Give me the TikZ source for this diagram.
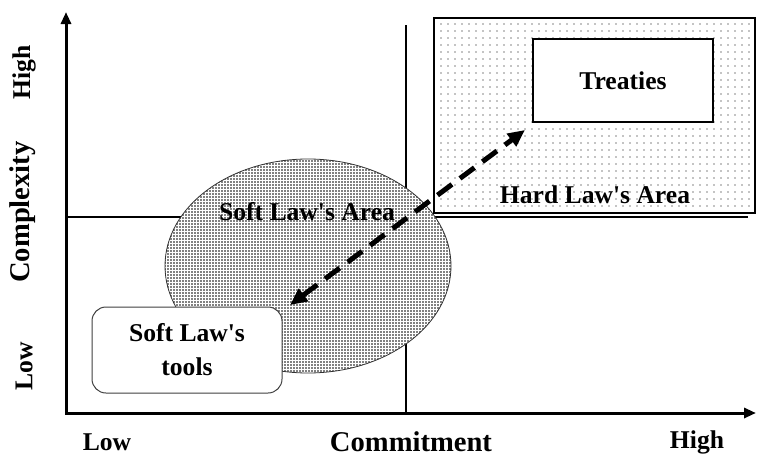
\documentclass[tikz,border=0pt]{standalone}
\usepackage{fontspec}
\setmainfont{Liberation Serif}
\usetikzlibrary{arrows.meta,patterns.meta,shapes.geometric}

\begin{document}
\begin{tikzpicture}[
  x=1pt, y=-1pt,
  axis/.style={line width=3pt, {Triangle[length=12pt,width=10pt]}-{Triangle[length=12pt,width=10pt]}},
  divider/.style={line width=2pt},
  hardarea/.style={draw, line width=1.2pt, inner sep=0pt, preaction={fill=white}, pattern={Dots[distance=7pt,radius=0.6pt]}},
  softarea/.style={draw=black!80, line width=0.8pt, ellipse, inner sep=0pt, preaction={fill=white}, pattern={Dots[distance=3pt,radius=0.85pt]}},
  box/.style={draw, line width=1.2pt, fill=white, inner sep=0pt},
  toolbox/.style={draw=black!75, line width=1pt, fill=white, rounded corners=14pt, inner sep=0pt, align=center},
  lab/.style={font=\fontsize{25.6}{34}\selectfont\bfseries},
  axlab/.style={font=\fontsize{28.6}{32}\selectfont\bfseries, inner sep=0pt},
  move/.style={line width=5pt, dash pattern=on 18pt off 10pt, {Triangle[length=17pt,width=15pt]}-{Triangle[length=17pt,width=15pt]}}
]
  \useasboundingbox[fill=white] (0,0) rectangle (757,458);

  % axes and the two quadrant dividers
  \coordinate (ytop) at (66,12);
  \coordinate (xend) at (756,413);
  \coordinate (midtop) at (406,25);
  \coordinate (midbot) at (406,413);
  \coordinate (midleft) at (66,217);
  \coordinate (midright) at (748,217);
  \draw[divider] (midtop) -- (midbot);
  \draw[divider] (midleft) -- (midright);
  \draw[axis] (ytop) |- (xend);

  % soft law ellipse, hard law region
  \node[softarea, minimum width=286pt, minimum height=214pt] (soft) at (308,266) {};
  \node[hardarea, minimum width=321pt, minimum height=195pt] (hard) at (594.5,115.5) {};
  \node[box, lab, minimum width=180pt, minimum height=83pt] (treaties) at (623,80.5) {Treaties};
  \node[lab] (hardlab) at (595,195) {Hard Law\textquotesingle s Area};
  \node[lab] (softlab) at (307,212) {Soft Law\textquotesingle s Area};
  \node[toolbox, lab, minimum width=190pt, minimum height=86pt] (tools) at (187,350) {Soft Law\textquotesingle s\\tools};

  % two-way move between the areas
  \coordinate (near) at (290,305);
  \coordinate (far) at (525,130);
  \draw[move] (near) -- (far);

  % axis labels
  \node[lab, rotate=90] (yhigh) at (24,72) {High};
  \node[axlab, rotate=90] (ylab) at (23,212) {Complexity};
  \node[lab, rotate=90] (ylow) at (24,366) {Low};
  \node[lab] (xlow) at (107,442) {Low};
  \node[axlab] (xlab) at (411,442) {Commitment};
  \node[lab] (xhigh) at (697,442) {High};
\end{tikzpicture}
\end{document}
